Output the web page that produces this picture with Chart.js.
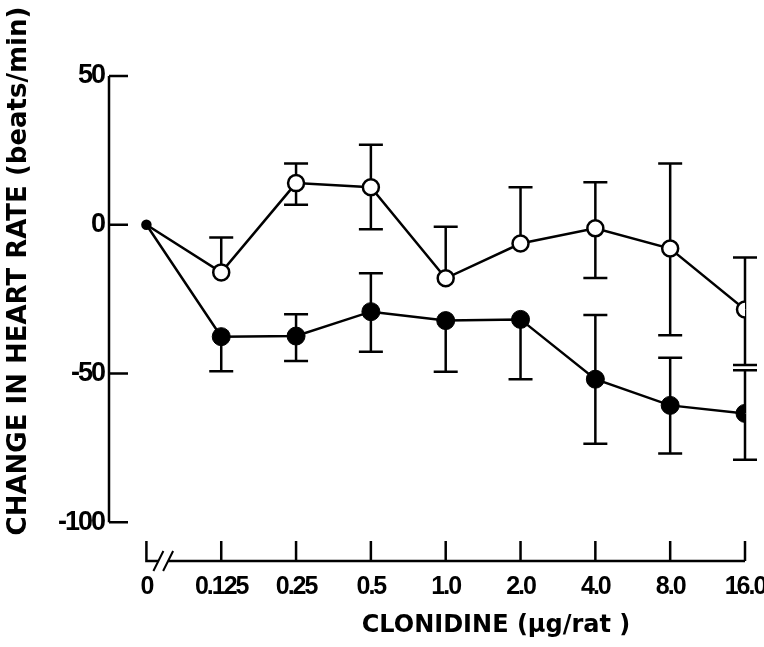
<!DOCTYPE html>
<html>
<head>
<meta charset="utf-8">
<script src="https://cdn.jsdelivr.net/npm/chart.js@4"></script>
<style>
  html, body { margin: 0; padding: 0; background: #fff; }
  #wrap { width: 764px; height: 647px; }
</style>
</head>
<body>
<div id="wrap"><canvas id="chart" width="764" height="647"></canvas></div>
<script>
// doses (µg/rat), plotted as equally spaced categories
const doseLabels = ['0', '0.125', '0.25', '0.5', '1.0', '2.0', '4.0', '8.0', '16.0'];
const yTicks = [-100, -50, 0, 50];

// open circles
const openMean = [0, -16, 14, 12.6, -18, -6.3, -1.2, -8, -28.5];
const openHi = [null, -4.3, 20.6, 26.9, -0.7, 12.6, 14.3, 20.6, -11];
const openLo = [null, null, 6.7, -1.5, null, null, -17.9, -37.1, -47.1];

// filled circles
const filledMean = [0, -37.6, -37.4, -29.2, -32.2, -31.8, -51.9, -60.7, -63.4];
const filledHi = [null, null, -30.1, -16.3, null, null, -30.3, -44.7, -48.9];
const filledLo = [null, -49.2, -45.8, -42.7, -49.4, -51.9, -73.6, -76.9, -79];

const toPoints = arr => arr.map((v, i) => ({ x: i, y: v }));
const openRadius = doseLabels.map((d, i) => i === 0 ? 4 : 8);
const filledRadius = doseLabels.map((d, i) => i === 0 ? 4 : 9);
const openFill = doseLabels.map((d, i) => i === 0 ? '#000' : '#fff');

const tickFamily = "'Liberation Sans', Arial, sans-serif";

// error bars, axis lines and titles drawn in the figure style
const figure = {
  id: 'figure',
  beforeDraw(chart) {
    // tight digit spacing like the original lettering
    chart.ctx.letterSpacing = '-2px';
  },
  beforeDatasetsDraw(chart) {
    const { ctx, scales: { x, y } } = chart;
    ctx.save();
    ctx.strokeStyle = '#000';
    ctx.lineWidth = 2.5;
    const bar = (i, from, to) => {
      if (to === null) return;
      const px = x.getPixelForValue(i);
      ctx.beginPath();
      ctx.moveTo(px, y.getPixelForValue(from));
      ctx.lineTo(px, y.getPixelForValue(to));
      ctx.moveTo(px - 12, y.getPixelForValue(to));
      ctx.lineTo(px + 12, y.getPixelForValue(to));
      ctx.stroke();
    };
    doseLabels.forEach((d, i) => {
      bar(i, openMean[i], openHi[i]);
      bar(i, openMean[i], openLo[i]);
      bar(i, filledMean[i], filledHi[i]);
      bar(i, filledMean[i], filledLo[i]);
    });
    ctx.restore();
  },
  afterDraw(chart) {
    const { ctx, chartArea, scales: { x, y } } = chart;
    ctx.save();
    ctx.letterSpacing = '0px';
    ctx.strokeStyle = '#000';
    ctx.lineWidth = 2.5;
    ctx.lineCap = 'butt';

    // y axis with inward ticks
    const ax = chartArea.left;
    ctx.beginPath();
    ctx.moveTo(ax, y.getPixelForValue(yTicks[yTicks.length - 1]));
    ctx.lineTo(ax, y.getPixelForValue(yTicks[0]));
    yTicks.forEach(t => {
      const py = y.getPixelForValue(t);
      ctx.moveTo(ax, py);
      ctx.lineTo(ax + 19, py);
    });
    ctx.stroke();

    // x axis with upward ticks and a break after 0
    const by = chartArea.bottom;
    const x0 = x.getPixelForValue(0);
    const b1 = x.getPixelForValue(0.16);
    const b2 = x.getPixelForValue(0.29);
    ctx.beginPath();
    ctx.moveTo(x0, by - 20);
    ctx.lineTo(x0, by);
    ctx.lineTo(b1, by);
    ctx.moveTo(b2, by);
    ctx.lineTo(x.getPixelForValue(doseLabels.length - 1), by);
    doseLabels.forEach((d, i) => {
      if (i === 0) return;
      const px = x.getPixelForValue(i);
      ctx.moveTo(px, by);
      ctx.lineTo(px, by - 20);
    });
    ctx.stroke();
    ctx.lineWidth = 2;
    ctx.beginPath();
    ctx.moveTo(b1 - 5, by + 10);
    ctx.lineTo(b1 + 5, by - 10);
    ctx.moveTo(b2 - 5, by + 10);
    ctx.lineTo(b2 + 5, by - 10);
    ctx.stroke();

    // axis titles
    ctx.fillStyle = '#000';
    ctx.textAlign = 'center';
    ctx.textBaseline = 'middle';
    ctx.font = "bold 26px 'DejaVu Sans', sans-serif";
    ctx.save();
    ctx.translate(19, 271);
    ctx.rotate(-Math.PI / 2);
    ctx.fillText('CHANGE IN HEART RATE (beats/min)', 0, 0);
    ctx.restore();
    ctx.font = "bold 24px 'DejaVu Sans', sans-serif";
    ctx.fillText('CLONIDINE (µg/rat )', 496, 626);
    ctx.restore();
  }
};

const ctx = document.getElementById('chart').getContext('2d');
const chart = new Chart(ctx, {
  type: 'line',
  data: {
    datasets: [
      {
        label: 'open',
        data: toPoints(openMean),
        borderColor: '#000',
        borderWidth: 2.5,
        pointRadius: openRadius,
        pointBorderWidth: 2.5,
        pointBorderColor: '#000',
        pointBackgroundColor: openFill,
        tension: 0,
      },
      {
        label: 'filled',
        data: toPoints(filledMean),
        borderColor: '#000',
        borderWidth: 2.5,
        pointRadius: filledRadius,
        pointBorderWidth: 1,
        pointBorderColor: '#000',
        pointBackgroundColor: '#000',
        tension: 0,
      },
    ],
  },
  options: {
    responsive: false,
    animation: false,
    layout: {
      padding: { left: 39, right: 19, top: 76, bottom: 0 },
    },
    plugins: {
      legend: { display: false },
      tooltip: { enabled: false },
    },
    scales: {
      x: {
        type: 'linear',
        min: -0.5,
        max: 8,
        grid: { display: false, drawTicks: false },
        border: { display: false },
        afterBuildTicks: s => { s.ticks = doseLabels.map((d, i) => ({ value: i })); },
        afterFit: s => { s.height = 86; s.paddingRight = 0; s.paddingLeft = 0; },
        ticks: {
          color: '#000',
          font: { family: tickFamily, size: 25, weight: 'bold' },
          padding: 11,
          maxRotation: 0,
          autoSkip: false,
          callback: v => doseLabels[v],
        },
      },
      y: {
        min: -113,
        max: 50,
        grid: { display: false, drawTicks: false },
        border: { display: false },
        afterBuildTicks: s => { s.ticks = yTicks.map(v => ({ value: v })); },
        afterFit: s => { s.width = 70; },
        ticks: {
          color: '#000',
          font: { family: tickFamily, size: 27, weight: 'bold' },
          padding: 5,
        },
      },
    },
  },
  plugins: [figure],
});
</script>
</body>
</html>
